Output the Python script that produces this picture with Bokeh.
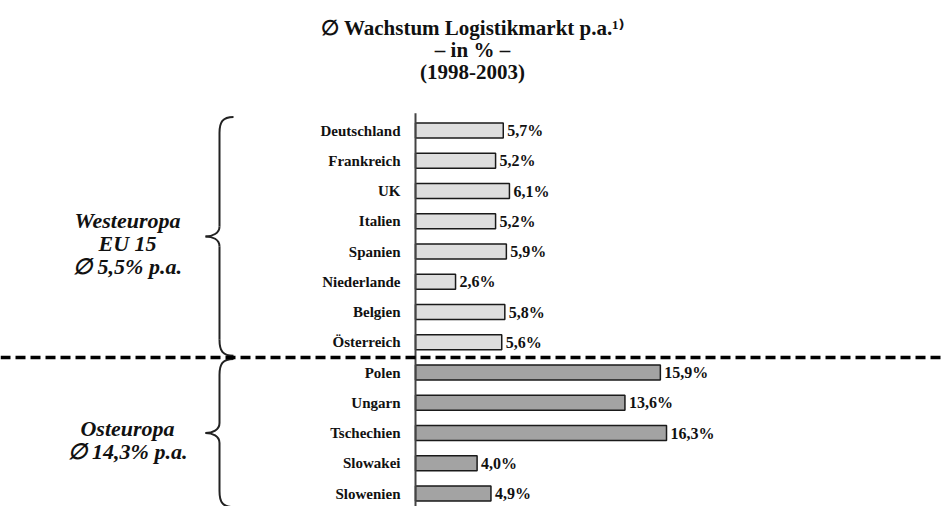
from bokeh.plotting import figure
from bokeh.models import ColumnDataSource, Range1d, Span, Label
from bokeh.core.properties import value
from bokeh.embed import file_html
from bokeh.resources import INLINE

# ---------------- data ----------------
countries = ["Deutschland", "Frankreich", "UK", "Italien", "Spanien", "Niederlande",
             "Belgien", "Österreich", "Polen", "Ungarn", "Tschechien", "Slowakei", "Slowenien"]
growth = [5.7, 5.2, 6.1, 5.2, 5.9, 2.6, 5.8, 5.6, 15.9, 13.6, 16.3, 4.0, 4.9]
regions = ["West"] * 8 + ["Ost"] * 5
group_keys = ["West", "Ost"]
group_lines = [["Westeuropa", "EU 15", "∅ 5,5% p.a."], ["Osteuropa", "∅ 14,3% p.a."]]
title_lines = ["∅ Wachstum Logistikmarkt p.a.¹⁾", "– in % –", "(1998-2003)"]

# ---------------- layout / style ----------------
W, H = 942, 506
PX_X = 15.4      # pixels per percent
PX_Y = 30.25     # pixels per row
X0_PX = 415      # screen x of bar origin
Y0_PX = 130      # screen y of first row
FONT_NAME = "Liberation Serif"
FONT = value(FONT_NAME)
fill = {"West": "#dedede", "Ost": "#a3a3a3"}

x_start = -X0_PX / PX_X
x_end = x_start + W / PX_X
y_top = -Y0_PX / PX_Y
y_bot = y_top + H / PX_Y

p = figure(width=W, height=H, x_range=Range1d(x_start, x_end), y_range=Range1d(y_bot, y_top),
           output_backend="svg", toolbar_location=None, min_border=0,
           x_axis_location=None, y_axis_location=None, outline_line_color=None)
p.xgrid.visible = False
p.ygrid.visible = False
p.background_fill_color = "white"
p.border_fill_color = "white"

n = len(countries)
src = ColumnDataSource(dict(
    y=list(range(n)),
    country=countries,
    growth=growth,
    color=[fill[r] for r in regions],
    label=[f"{v:.1f}%".replace(".", ",") for v in growth],
))

# bars
p.hbar(y="y", left=0, right="growth", height=0.5, fill_color="color",
       line_color="#1a1a1a", line_width=1.5, source=src)

# axis line
p.segment(x0=[0], y0=[-0.57], x1=[0], y1=[y_bot + 1],
          line_color="#444444", line_width=2)

# country labels
p.text(x=0, y="y", text="country", x_offset=-15, text_align="right", text_baseline="middle",
       text_font=FONT, text_font_style="bold", text_font_size="15px", text_color="#111111",
       source=src)
# value labels
p.text(x="growth", y="y", text="label", x_offset=4, text_align="left", text_baseline="middle",
       text_font=FONT, text_font_style="bold", text_font_size="16px", text_color="#111111",
       source=src)

# divider between groups
last_west = max(i for i, r in enumerate(regions) if r == "West")
first_ost = min(i for i, r in enumerate(regions) if r == "Ost")
p.add_layout(Span(location=(last_west + first_ost) / 2, dimension="width",
                  line_color="black", line_width=3.5, line_dash="10 5"))

# braces and group labels
XC = -196 / PX_X         # brace stem x (data)
LX = -288 / PX_X         # group label center x (data)
dx = lambda px: px / PX_X
dy = lambda px: px / PX_Y

for key, lines in zip(group_keys, group_lines):
    idx = [i for i, r in enumerate(regions) if r == key]
    T = min(idx) - 0.45
    B = max(idx) + 0.45
    M = (T + B) / 2
    segs = [
        ((XC + dx(14), T), (XC + dx(3), T), (XC, T + dy(5)), (XC, T + dy(16))),
        ((XC, T + dy(16)), (XC, T + dy(16)), (XC, M - dy(10)), (XC, M - dy(10))),
        ((XC, M - dy(10)), (XC, M - dy(3)), (XC - dx(7), M), (XC - dx(14), M)),
        ((XC - dx(14), M), (XC - dx(7), M), (XC, M + dy(3)), (XC, M + dy(10))),
        ((XC, M + dy(10)), (XC, M + dy(10)), (XC, B - dy(16)), (XC, B - dy(16))),
        ((XC, B - dy(16)), (XC, B - dy(5)), (XC + dx(3), B), (XC + dx(14), B)),
    ]
    p.bezier(x0=[s[0][0] for s in segs], y0=[s[0][1] for s in segs],
             cx0=[s[1][0] for s in segs], cy0=[s[1][1] for s in segs],
             cx1=[s[2][0] for s in segs], cy1=[s[2][1] for s in segs],
             x1=[s[3][0] for s in segs], y1=[s[3][1] for s in segs],
             line_color="#222222", line_width=2)
    k = len(lines)
    ys = [M + dy((i - (k - 1) / 2) * 23 + 7) for i in range(k)]
    p.text(x=[LX] * k, y=ys, text=lines, text_align="center", text_baseline="alphabetic",
           text_font=FONT, text_font_style="bold italic", text_font_size="22px",
           text_color="#111111")

# title
for i, t in enumerate(title_lines):
    p.add_layout(Label(x=472, y=H - (27 + 22 * i), x_units="screen", y_units="screen",
                       text=t, text_align="center", text_baseline="alphabetic",
                       text_font=FONT_NAME, text_font_style="bold", text_font_size="21px",
                       text_color="#111111"))

open("out.html", "w").write(file_html(p, INLINE))
